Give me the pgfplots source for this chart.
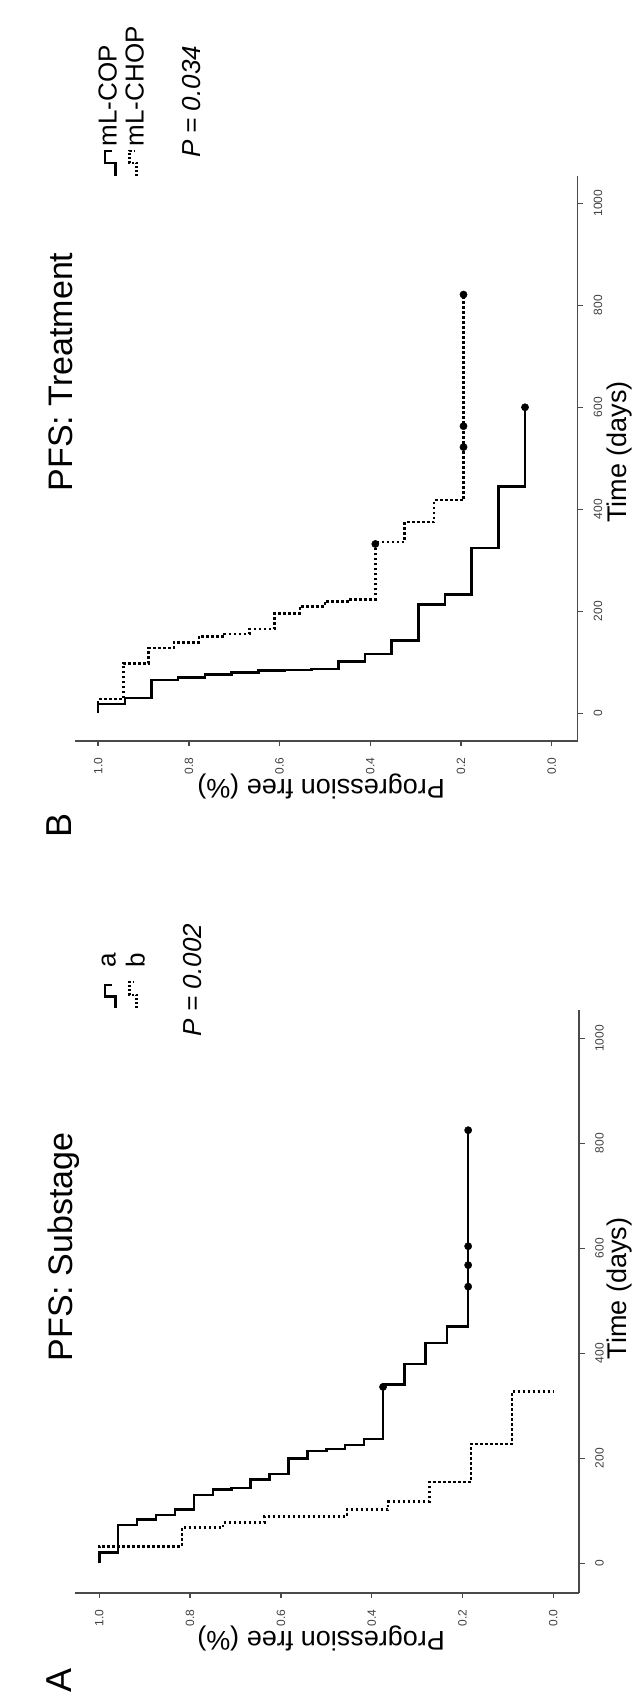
\documentclass[border=0pt]{standalone}
\usepackage{pgfplots}
\pgfplotsset{compat=1.18}
\usepackage{fontspec}
\setmainfont{Liberation Sans}
\definecolor{axgray}{HTML}{4A4A4A}

\tikzset{
  km/.style={black, line width=2.5bp},
  kmdot/.style={black, line width=2.5bp, dash pattern=on 2.6bp off 2.4bp},
}
\pgfplotsset{
  kmaxis/.style={
    scale only axis,
    x dir=reverse,
    axis x line*=bottom,
    axis y line*=right,
    xtick={0,0.2,0.4,0.6,0.8,1},
    xticklabels={0.0,0.2,0.4,0.6,0.8,1.0},
    ytick={0,200,400,600,800,1000},
    yticklabels={0,200,400,600,800,1000},
    tick align=outside,
    major tick length=5.5bp,
    axis line style={line width=1.9bp, draw=axgray, -},
    every tick/.style={line width=1.5bp, draw=axgray},
    tick label style={font=\fontsize{12bp}{12bp}\selectfont, inner sep=0pt, rotate=90, text=black!75},
    xticklabel style={anchor=east},
    yticklabel style={anchor=north},
    xticklabel shift=11bp,
    yticklabel shift=10.5bp,
    clip=false,
  },
  cens/.style={only marks, mark=*, mark size=3.6bp, mark options={black, solid, line width=0.5bp}},
}

\begin{document}
\begin{tikzpicture}
\useasboundingbox (0,0) rectangle (633bp,1704bp);

% ---------------- Panel B (top): Treatment ----------------
\begin{axis}[kmaxis, at={(75bp,963bp)}, anchor=south west, width=502.5bp, height=565bp,
  xmin=-0.0569, xmax=1.0512, ymin=-54.3, ymax=1053.5]
% mL-COP (solid)
\addplot[km] coordinates {
 (1,0) (1,18) (0.94118,18) (0.94118,30) (0.88235,30) (0.88235,65) (0.82353,65) (0.82353,70.6)
 (0.76471,70.6) (0.76471,75.8) (0.70588,75.8) (0.70588,79.7) (0.64706,79.7) (0.64706,83.7)
 (0.58824,83.7) (0.58824,85) (0.52941,85) (0.52941,86.9) (0.47059,86.9) (0.47059,101.3)
 (0.41176,101.3) (0.41176,116.3) (0.35294,116.3) (0.35294,142.5) (0.29412,142.5) (0.29412,213)
 (0.23529,213) (0.23529,233) (0.17647,233) (0.17647,324) (0.11765,324) (0.11765,445)
 (0.05882,445) (0.05882,600)};
% mL-CHOP (dotted)
\addplot[kmdot] coordinates {
 (1,0) (1,28) (0.94444,28) (0.94444,98) (0.88889,98) (0.88889,128) (0.83333,128) (0.83333,139)
 (0.77778,139) (0.77778,151) (0.72222,151) (0.72222,155.6) (0.66667,155.6) (0.66667,165.4)
 (0.61111,165.4) (0.61111,196) (0.55556,196) (0.55556,209.8) (0.5,209.8) (0.5,219.6)
 (0.44444,219.6) (0.44444,223) (0.38889,223) (0.38889,336) (0.32407,336) (0.32407,375)
 (0.25926,375) (0.25926,418) (0.19444,418) (0.19444,821)};
% censored observations
\addplot[cens] coordinates {(0.05882,600)};
\addplot[cens] coordinates {(0.38889,332) (0.19444,522) (0.19444,563) (0.19444,821)};
\end{axis}

% ---------------- Panel A (bottom): Substage ----------------
\begin{axis}[kmaxis, at={(75bp,111bp)}, anchor=south west, width=504bp, height=583bp,
  xmin=-0.0566, xmax=1.0535, ymin=-56.6, ymax=1054]
% a (solid)
\addplot[km] coordinates {
 (1,0) (1,21) (0.95833,21) (0.95833,73) (0.91667,73) (0.91667,83) (0.875,83) (0.875,92)
 (0.83333,92) (0.83333,102) (0.79167,102) (0.79167,130) (0.75,130) (0.75,141)
 (0.70833,141) (0.70833,143) (0.66667,143) (0.66667,160) (0.625,160) (0.625,170)
 (0.58333,170) (0.58333,200) (0.54167,200) (0.54167,214) (0.5,214) (0.5,218)
 (0.45833,218) (0.45833,225) (0.41667,225) (0.41667,237) (0.375,237) (0.375,341)
 (0.328125,341) (0.328125,380) (0.28125,380) (0.28125,420) (0.234375,420) (0.234375,451)
 (0.1875,451) (0.1875,825)};
% b (dotted)
\addplot[kmdot] coordinates {
 (1,0) (1,32) (0.81818,32) (0.81818,68) (0.72727,68) (0.72727,77.5) (0.63636,77.5) (0.63636,89)
 (0.45455,89) (0.45455,102) (0.36364,102) (0.36364,117.5) (0.27273,117.5) (0.27273,155)
 (0.18182,155) (0.18182,227) (0.09091,227) (0.09091,327) (0,327)};
% censored observations
\addplot[cens] coordinates {(0.375,336) (0.1875,527) (0.1875,568) (0.1875,604) (0.1875,825)};
\end{axis}

% ---------------- Legends (keys drawn as small steps) ----------------
\draw[km, line width=2.2bp] (115.5bp,1528bp) -- (115.5bp,1541bp) -- (105bp,1541bp) -- (105bp,1553bp) -- (111.5bp,1553bp);
\draw[kmdot, line width=2.2bp, dash pattern=on 2bp off 2bp] (136.5bp,1528bp) -- (136.5bp,1541bp) -- (129.5bp,1541bp) -- (129.5bp,1553bp) -- (134bp,1553bp);
\node[rotate=90, anchor=base west, inner sep=0pt, font=\fontsize{26bp}{26bp}\selectfont] at (116.7bp,1557.5bp) {mL-COP};
\node[rotate=90, anchor=base west, inner sep=0pt, font=\fontsize{26bp}{26bp}\selectfont] at (143.5bp,1557.5bp) {mL-CHOP};

\draw[km, line width=2.2bp] (115.5bp,696bp) -- (115.5bp,707.5bp) -- (105bp,707.5bp) -- (105bp,719bp) -- (111.5bp,719bp);
\draw[kmdot, line width=2.2bp, dash pattern=on 2bp off 2bp] (136.5bp,696bp) -- (136.5bp,709bp) -- (129.5bp,709bp) -- (129.5bp,722bp) -- (134bp,722bp);
\node[rotate=90, anchor=base west, inner sep=0pt, font=\fontsize{26bp}{26bp}\selectfont] at (115.5bp,736bp) {a};
\node[rotate=90, anchor=base west, inner sep=0pt, font=\fontsize{26bp}{26bp}\selectfont] at (144.5bp,736bp) {b};

% ---------------- Text ----------------
\node[rotate=90, anchor=base, font=\fontsize{34bp}{34bp}\selectfont] at (72bp,1332bp) {PFS: Treatment};
\node[rotate=90, anchor=base, font=\fontsize{34bp}{34bp}\selectfont] at (72bp,457bp) {PFS: Substage};
\node[rotate=90, anchor=base, font=\fontsize{26bp}{26bp}\selectfont\itshape] at (200bp,1602bp) {P = 0.034};
\node[rotate=90, anchor=base, font=\fontsize{26bp}{26bp}\selectfont\itshape] at (201.5bp,724bp) {P = 0.002};
\node[rotate=180, anchor=base, font=\fontsize{27bp}{27bp}\selectfont] at (321bp,924bp) {Progression free (\%)};
\node[rotate=180, anchor=base, font=\fontsize{27bp}{27bp}\selectfont] at (321bp,72.3bp) {Progression free (\%)};
\node[rotate=90, anchor=base, font=\fontsize{27bp}{27bp}\selectfont] at (626bp,1252bp) {Time (days)};
\node[rotate=90, anchor=base, font=\fontsize{27bp}{27bp}\selectfont] at (626bp,415.5bp) {Time (days)};
\node[rotate=90, anchor=base, font=\fontsize{36bp}{36bp}\selectfont] at (71.7bp,878bp) {B};
\node[rotate=90, anchor=base, font=\fontsize{36bp}{36bp}\selectfont] at (71.7bp,24bp) {A};
\end{tikzpicture}
\end{document}
